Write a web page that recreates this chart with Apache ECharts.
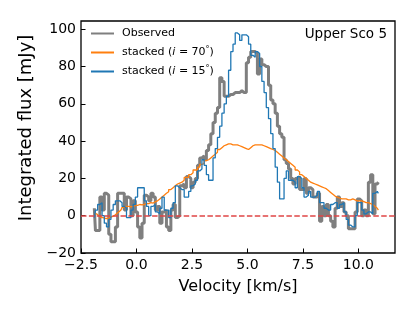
<!DOCTYPE html>
<html>
<head>
<meta charset="utf-8">
<script src="https://cdn.jsdelivr.net/npm/echarts@6/dist/echarts.min.js"></script>
<style>
html,body{margin:0;padding:0;background:#fff;}
#chart{width:416px;height:317px;}
</style>
</head>
<body>
<div id="chart"></div>
<script>
var velocity = [
-1.9,-1.8,-1.7,-1.6,-1.5,-1.4,-1.3,-1.2,-1.1,-1.0,
-0.9,-0.8,-0.7,-0.6,-0.5,-0.4,-0.3,-0.2,-0.1,0.0,
0.1,0.2,0.3,0.4,0.5,0.6,0.7,0.8,0.9,1.0,
1.1,1.2,1.3,1.4,1.5,1.6,1.7,1.8,1.9,2.0,
2.1,2.2,2.3,2.4,2.5,2.6,2.7,2.8,2.9,3.0,
3.1,3.2,3.3,3.4,3.5,3.6,3.7,3.8,3.9,4.0,
4.1,4.2,4.3,4.4,4.5,4.6,4.7,4.8,4.9,5.0,
5.1,5.2,5.3,5.4,5.5,5.6,5.7,5.8,5.9,6.0,
6.1,6.2,6.3,6.4,6.5,6.6,6.7,6.8,6.9,7.0,
7.1,7.2,7.3,7.4,7.5,7.6,7.7,7.8,7.9,8.0,
8.1,8.2,8.3,8.4,8.5,8.6,8.7,8.8,8.9,9.0,
9.1,9.2,9.3,9.4,9.5,9.6,9.7,9.8,9.9,10.0,
10.1,10.2,10.3,10.4,10.5,10.6,10.7,10.8,10.9
];
var observed = [
4,-8,-8,10,3,12,11,-10,-14,-14,
-6,12,12,12,3,10,9,0,8,2,
-6,-12,-4,11,10,8,12,10,3,5,
-4,2,3,-6,-8,3,6,-1,0,16,
17,15,21,20,15,18,20,27,31,32,
30,35,38,44,50,55,58,74,72,64,
64,65,65,66,66,66,67,66,66,82,
85,88,88,87,76,84,81,80,80,70,
62,60,55,48,44,42,30,28,25,20,
17,20,21,14,14,20,12,15,14,10,
10,12,-3,5,0,6,0,-3,-6,4,
10,5,7,2,0,-7,-7,-7,2,9,
8,0,3,0,18,22,1,17,18
];
var stacked70 = [
1,1,0,-1,-1,-1.5,-1.5,-1,-0.5,0,
1,2,3,4.5,5,5,4.8,5,5.5,5.5,
6,5.8,6,6.5,6.5,7,6.8,7.5,8,9,
10,11,12,12.8,14,15,16,17,17.5,18,
19,20.5,20.5,22,23,24.5,24.5,26,27.5,28,
29.5,30,31,32,33,34,35.5,36.5,37.5,38,
38.5,38.5,38,38,38,37.5,37,36.5,36,35.5,
36.5,37.5,38,38,38,38,37.5,37,36.5,36,
35.5,35,34,33,32,31,30,29,28,27,
26,24.5,23.5,22,21,20,19,18,17.5,17,
16.5,16,15.5,15,14.5,13.5,12.5,11.5,10.5,10,
9.5,9,9,9,8.5,8.5,9,8.5,8,8,
8,7.5,7,7,6.5,6,5,4,3
];
var stacked15 = [
-1,3,6,7,0,-4,-6,-2,3,6,
8,8,7,5,4,-1,-1,3,6,10,
15,15,15,8,5,0,5,6,2,1,
4,10,3,3,-1,4,7,16,15,14,
14,10,10,13,16,17,19,24,25,30,
27,22,19,19,31,36,42,48,55,60,
64,78,88,92,98,97,94,97,97,96,
92,86,85,88,87,80,72,66,58,52,
44,36,26,18,9,9,20,24,19,19,
18,15,21,20,15,10,11,13,10,10,
11,13,7,7,4,3,3,6,7,7,
4,6,7,2,-2,-5,-6,-6,0,7,
7,3,1,2,2,1,12,13,12
];
var xTicks = [-2.5, 0.0, 2.5, 5.0, 7.5, 10.0];
var yTicks = [-20, 0, 20, 40, 60, 80, 100];
var seriesNames = ['Observed', 'stacked (i = 70°)', 'stacked (i = 15°)'];
var titleText = 'Upper Sco 5';

function pairs(ys) { return velocity.map(function (v, i) { return [v, ys[i]]; }); }
function minusFmt(v, d) {
  var s = Math.abs(v).toFixed(d);
  return (v < 0 ? '\u2212' : '') + s;
}

var FONT = 'DejaVu Sans';
var chart = echarts.init(document.getElementById('chart'), null, {renderer: 'canvas'});
chart.setOption({
  animation: false,
  backgroundColor: '#ffffff',
  textStyle: {fontFamily: FONT},
  title: {
    text: titleText, right: 29, top: 27, padding: 0,
    textStyle: {fontFamily: FONT, fontSize: 13.5, fontWeight: 'normal', color: '#000'}
  },
  grid: {left: 81, right: 21, top: 21, bottom: 64, show: true, borderColor: '#000', borderWidth: 1.3, backgroundColor: 'transparent'},
  legend: {
    orient: 'vertical', left: 90, top: 28, itemWidth: 23, itemHeight: 12, itemGap: 7,
    padding: 0,
    data: seriesNames,
    itemStyle: {opacity: 0},
    textStyle: {fontFamily: FONT, fontSize: 11, color: '#000', padding: [0, 0, 0, 3],
      rich: {
        n: {fontFamily: FONT, fontSize: 11, color: '#000'},
        it: {fontFamily: FONT, fontSize: 11, fontStyle: 'italic', color: '#000'},
        sup: {fontFamily: FONT, fontSize: 8, color: '#000', verticalAlign: 'top', padding: [0, 0, 5, 0]}
      }
    },
    formatter: function (name) {
      var m = name.match(/^stacked \(i = (\d+)°\)$/);
      if (m) return '{n|stacked (}{it|i}{n| = ' + m[1] + '}{sup|°}{n|)}';
      return '{n|' + name + '}';
    }
  },
  xAxis: {
    type: 'value', min: -2.5, max: 11.65,
    name: 'Velocity [km/s]', nameLocation: 'middle', nameGap: 26,
    nameTextStyle: {fontFamily: FONT, fontSize: 16, color: '#000'},
    axisLine: {show: false, onZero: false},
    axisTick: {show: true, inside: true, length: 4.5, customValues: xTicks, lineStyle: {color: '#000', width: 1}},
    axisLabel: {customValues: xTicks, margin: 5, fontFamily: FONT, fontSize: 14, color: '#000',
      formatter: function (v) { return minusFmt(v, 1); }},
    splitLine: {show: false}
  },
  yAxis: {
    type: 'value', min: -20, max: 104.4,
    name: 'Integrated flux [mJy]', nameLocation: 'middle', nameGap: 41,
    nameTextStyle: {fontFamily: FONT, fontSize: 18, color: '#000', padding: [0, 0, 0, 18]},
    axisLine: {show: false, onZero: false},
    axisTick: {show: true, inside: true, length: 4.5, customValues: yTicks, lineStyle: {color: '#000', width: 1}},
    axisLabel: {customValues: yTicks, margin: 5, fontFamily: FONT, fontSize: 14, color: '#000',
      formatter: function (v) { return minusFmt(v, 0); }},
    splitLine: {show: false}
  },
  series: [
    {name: seriesNames[0], type: 'line', step: 'middle', showSymbol: false, symbol: 'none',
     data: pairs(observed), lineStyle: {color: '#7f7f7f', width: 3}, itemStyle: {color: '#7f7f7f'}, z: 2},
    {name: seriesNames[1], type: 'line', step: 'middle', showSymbol: false, symbol: 'none',
     data: pairs(stacked70), lineStyle: {color: '#ff7f0e', width: 1.3}, itemStyle: {color: '#ff7f0e'}, z: 3},
    {name: seriesNames[2], type: 'line', step: 'middle', showSymbol: false, symbol: 'none',
     data: pairs(stacked15), lineStyle: {color: '#1f77b4', width: 1.3}, itemStyle: {color: '#1f77b4'}, z: 4,
     markLine: {silent: true, symbol: 'none', label: {show: false},
       lineStyle: {color: '#e04646', type: [5.5, 2.4], width: 1.5},
       data: [{yAxis: 0}]}}
  ]
});
</script>
</body>
</html>
